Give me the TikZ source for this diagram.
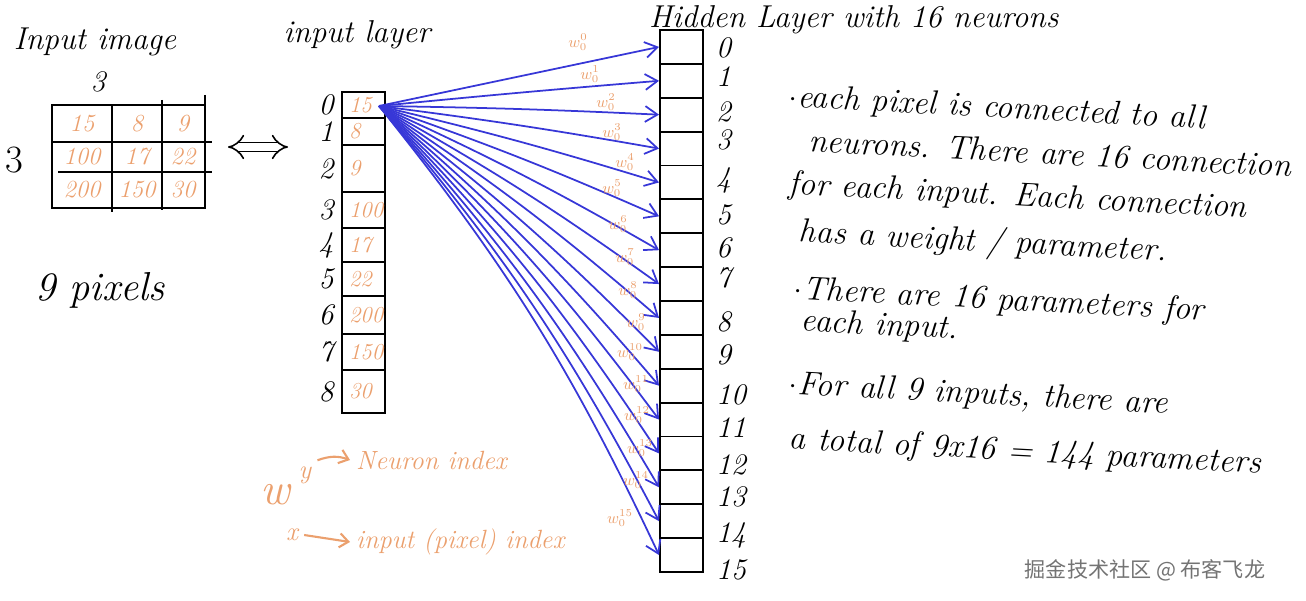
\documentclass[tikz,border=0pt]{standalone}
\usepackage{fontspec}
\newfontfamily\cjk{Noto Sans CJK SC}
\usetikzlibrary{arrows.meta}
\definecolor{wblue}{RGB}{55,55,215}
\definecolor{worange}{RGB}{235,160,110}
\begin{document}
\begin{tikzpicture}[x=0.02cm,y=-0.02cm,
  lbl/.style={font=\fontsize{17}{19}\selectfont\itshape},
  ttl/.style={font=\fontsize{18}{20}\selectfont\itshape},
  val/.style={text=worange,font=\fontsize{14}{16}\selectfont\itshape},
  note/.style={font=\fontsize{19}{22}\selectfont\itshape, anchor=west, rotate=-3},
  cellbox/.style={draw, line width=1.1pt, inner sep=0pt, minimum width=0.86cm},
  conn/.style={wblue, line width=1pt, -{Straight Barb[length=7pt,width=9pt]}},
  wlab/.style={text=worange, font=\fontsize{9}{10}\selectfont, inner sep=0.5pt},
  leg/.style={text=worange, font=\fontsize{15}{17}\selectfont\itshape},
  legarrow/.style={worange, line width=1.2pt, -{Straight Barb[length=5pt,width=8pt]}}]
\useasboundingbox (0,0) rectangle (1306,601);

% ---- input image ----
\node[ttl] (imgtitle) at (95,42) {Input image};
\node[lbl] (top3) at (98,82) {3};
\node[lbl, font=\fontsize{22}{24}\selectfont] (left3) at (14,160) {3};
\draw[line width=1.2pt] (52,105) rectangle (205,208);
\draw[line width=1.2pt] (52,142) -- (212,142) (58,172) -- (212,172)
  (112,105) -- (112,212) (162,100) -- (162,210) (205,95) -- (205,208);
\node[val] (p00) at (82,124) {15};
\node[val] (p01) at (137,124) {8};
\node[val] (p02) at (183,124) {9};
\node[val] (p10) at (82,157) {100};
\node[val] (p11) at (137,157) {17};
\node[val] (p12) at (183,157) {22};
\node[val] (p20) at (82,190) {200};
\node[val] (p21) at (137,190) {150};
\node[val] (p22) at (183,190) {30};
\coordinate (da) at (228,147);
\coordinate (db) at (288,147);
\draw[line width=0.9pt, double, double distance=4pt, {Implies}-{Implies}] (da) -- (db);
\node[font=\fontsize{23}{25}\selectfont\itshape] (pix) at (100,290) {9 pixels};

% ---- input layer ----
\node[ttl] (intitle) at (357,35) {input layer};
\foreach \t/\b/\v [count=\i from 0] in {92/118/15,118/145/8,145/192/9,192/228/100,228/262/17,262/296/22,296/334/200,334/370/150,370/413/30}{
  \pgfmathsetmacro\hh{(\b-\t)*0.02}
  \node[cellbox, minimum height=\hh cm] (in\i) at (363.5,{(\t+\b)/2}) {};
  \node[val, anchor=west, font=\fontsize{13}{15}\selectfont\itshape] (iv\i) at ([xshift=1pt]in\i.west) {\v};
  \node[lbl] (il\i) at (326,{(\t+\b)/2}) {\i};
}
\coordinate (src) at (379,106);

% ---- hidden layer ----
\node[ttl, anchor=west] (htitle) at (643,20) {Hidden Layer with 16 neurons};
\foreach \i in {0,...,15}{
  \node[cellbox, minimum height=0.6775cm] (h\i) at (681.5,{30+33.875*(\i+0.5)}) {};
}
\foreach \y [count=\i from 0] in {48,77,112,140,180,215,248,278,322,355,395,428,465,497,535,570}{
  \node[lbl, anchor=west] (hl\i) at (710,\y) {\i};
}
\foreach \i in {0,...,15}{
  \draw[conn] (src) to[bend left={0.45*\i}] (h\i.west);
}
% weight labels
\foreach \x/\y [count=\i from 0] in {578/42,590/74,606/102,612/132,625/162,612/188,618/224,625/257,628/290,636/322,630/352,636/384,637/415,640/448,636/480,620/518}{
  \node[wlab] (w\i) at (\x,\y) {$w_{0}^{\i}$};
}

% ---- notes ----
\node[note] (n1) at (783,98) {$\cdot$each pixel is connected to all};
\node[note] (n2) at (803,140) {neurons. There are 16 connection};
\node[note] (n3) at (783,185) {for each input. Each connection};
\node[note] (n4) at (793,233) {has a weight / parameter.};
\node[note] (n5) at (788,290) {$\cdot$There are 16 parameters for};
\node[note] (n6) at (795,322) {each input.};
\node[note] (n7) at (783,385) {$\cdot$For all 9 inputs, there are};
\node[note] (n8) at (783,440) {a total of 9x16 = 144 parameters};

% ---- legend ----
\node[leg, font=\fontsize{26}{28}\selectfont\itshape] (lw) at (275,495) {w};
\node[leg] (ly) at (305,475) {y};
\node[leg] (lx) at (292,535) {x};
\node[leg, anchor=west] (lyt) at (350,460) {Neuron index};
\node[leg, anchor=west] (lxt) at (350,542) {input (pixel) index};
\draw[legarrow] (ly.north east) to[bend left=20] (lyt.west);
\draw[legarrow] (lx.east) -- (lxt.west);

% ---- watermark ----
\node[text=black!55, font=\cjk\fontsize{12}{14}\selectfont] (wm) at (1145,570) {掘金技术社区 @ 布客飞龙};
\end{tikzpicture}
\end{document}
